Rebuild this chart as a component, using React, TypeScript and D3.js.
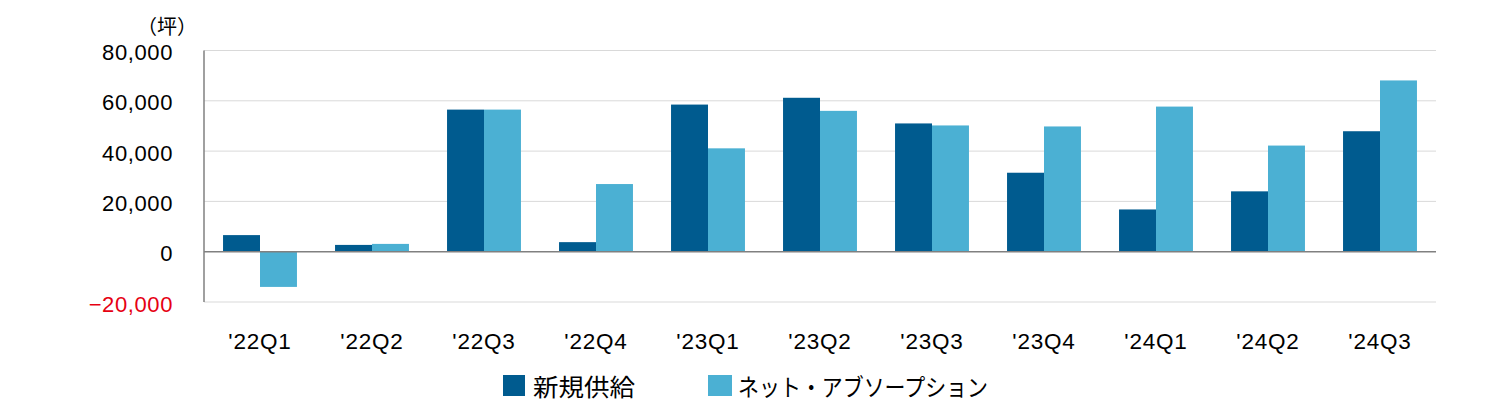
import React from "react";
import * as d3 from "d3";

const categories = ["'22Q1", "'22Q2", "'22Q3", "'22Q4", "'23Q1", "'23Q2", "'23Q3", "'23Q4", "'24Q1", "'24Q2", "'24Q3"];
const newSupply = [6600, 2700, 56500, 3800, 58500, 61200, 51000, 31400, 16800, 24000, 47900];
const netAbsorption = [-14000, 3100, 56500, 26900, 41100, 56000, 50200, 49800, 57700, 42200, 68100];
const yTicks = [-20000, 0, 20000, 40000, 60000, 80000];
const seriesNames = ["新規供給", "ネット・アブソープション"];
const colors = ["#005B8F", "#4BB0D3"];

const W = 1511;
const H = 411;
const left = 204;
const right = 1436;
const top = 50.5;
const bottom = 302;

export default function App() {
  const y = d3.scaleLinear().domain([-20000, 80000]).range([bottom, top]);
  const x0 = d3
    .scaleBand<string>()
    .domain(categories)
    .range([left, right])
    .paddingInner(0.34)
    .paddingOuter(0.17);
  const x1 = d3.scaleBand<number>().domain([0, 1]).range([0, x0.bandwidth()]).padding(0);
  const fmt = d3.format(",");
  const numFont = "'Liberation Sans', Arial, sans-serif";
  const jpFont = "'Noto Sans CJK JP', sans-serif";
  const series = [newSupply, netAbsorption];

  return (
    <svg width={W} height={H} style={{ position: "absolute", left: 0, top: 0, background: "#fff" }}>
      {yTicks
        .filter((t) => t !== 0)
        .map((t) => (
          <line key={t} x1={left} x2={right} y1={y(t)} y2={y(t)} stroke="#d9d9d9" strokeWidth={1} />
        ))}
      {categories.map((c, i) => (
        <g key={c} transform={`translate(${x0(c)},0)`}>
          {series.map((s, j) => {
            const v = s[i];
            return (
              <rect
                key={j}
                x={x1(j)}
                width={x1.bandwidth()}
                y={Math.min(y(v), y(0))}
                height={Math.abs(y(v) - y(0))}
                fill={colors[j]}
              />
            );
          })}
        </g>
      ))}
      <line x1={left} x2={right} y1={y(0)} y2={y(0)} stroke="#808080" strokeWidth={1.5} />
      <line x1={left} x2={left} y1={top} y2={bottom} stroke="#808080" strokeWidth={1.5} />
      {yTicks.map((t) => (
        <text
          key={t}
          x={173}
          y={y(t) + 2}
          textAnchor="end"
          dominantBaseline="central"
          fontFamily={numFont}
          fontSize={22}
          letterSpacing={0.6}
          fill={t < 0 ? "#E60012" : "#000"}
        >
          {t < 0 ? "−" + fmt(-t) : fmt(t)}
        </text>
      ))}
      <text x={137} y={25} dominantBaseline="central" fontFamily={jpFont} fontSize={20} fill="#000">
        （坪）
      </text>
      {categories.map((c) => (
        <text
          key={c}
          x={(x0(c) as number) + x0.bandwidth() / 2}
          y={341}
          textAnchor="middle"
          dominantBaseline="central"
          fontFamily={numFont}
          fontSize={22.5}
          letterSpacing={0.8}
          fill="#000"
        >
          {c}
        </text>
      ))}
      <rect x={503} y={375} width={22} height={21} fill={colors[0]} />
      <text x={533} y={385} dominantBaseline="central" fontFamily={jpFont} fontSize={24} textLength={102} lengthAdjust="spacingAndGlyphs" fill="#000">
        {seriesNames[0]}
      </text>
      <rect x={708} y={375} width={24} height={21} fill={colors[1]} />
      <text x={738} y={385} dominantBaseline="central" fontFamily={jpFont} fontSize={24} textLength={250} lengthAdjust="spacingAndGlyphs" fill="#000">
        {seriesNames[1]}
      </text>
    </svg>
  );
}
